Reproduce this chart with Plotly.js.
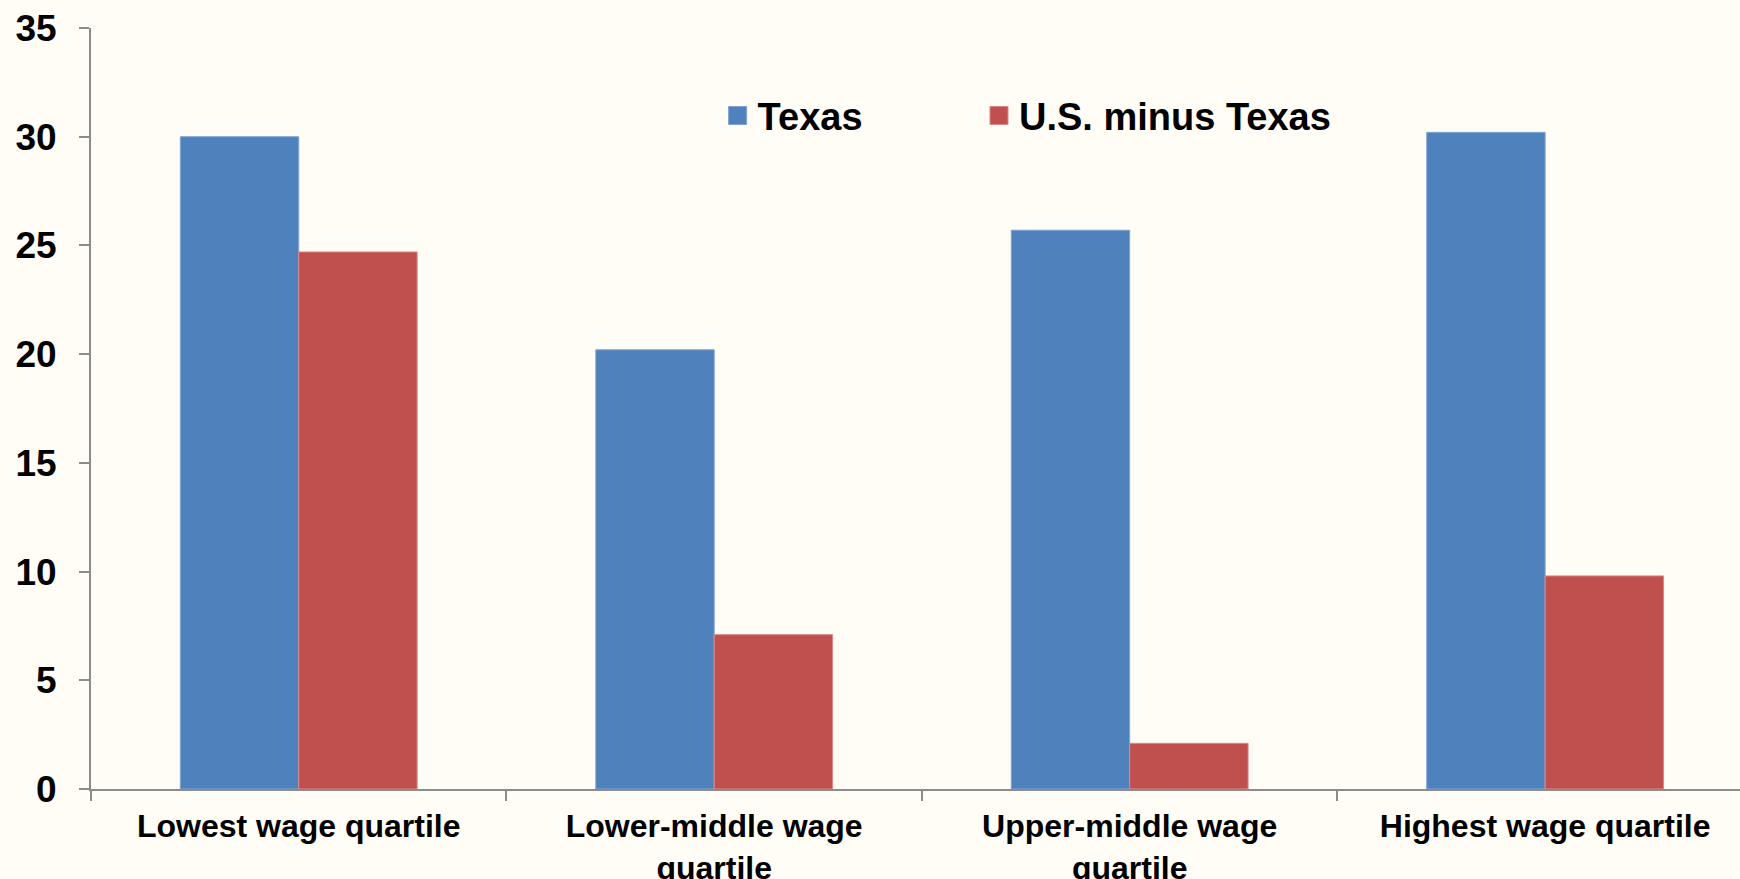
<!DOCTYPE html>
<html>
<head>
<meta charset="utf-8">
<script src="https://cdn.plot.ly/plotly-3.0.1.min.js"></script>
<style>
  html, body { margin: 0; padding: 0; background: #fffdf6; overflow: hidden; }
  #chart { width: 1740px; height: 879px; }
</style>
</head>
<body>
<div id="chart"></div>
<script>
// Data
const categories = [
  "Lowest wage quartile",
  "Lower-middle wage<br>quartile",
  "Upper-middle wage<br>quartile",
  "Highest wage quartile"
];
const texasValues = [30.0, 20.2, 25.7, 30.2];
const usMinusTexasValues = [24.7, 7.1, 2.1, 9.8];
const seriesNames = ["Texas", "U.S. minus Texas"];
const yTickValues = [0, 5, 10, 15, 20, 25, 30, 35];

const FONT = "Liberation Sans, Arial, sans-serif";

const traces = [
  {
    type: "bar",
    name: seriesNames[0],
    x: categories,
    y: texasValues,
    legend: "legend",
    marker: { color: "#4f81bd", line: { color: "#7fa3d4", width: 1 } },
    hoverinfo: "x+y+name"
  },
  {
    type: "bar",
    name: seriesNames[1],
    x: categories,
    y: usMinusTexasValues,
    legend: "legend2",
    marker: { color: "#c0504d", line: { color: "#d98a88", width: 1 } },
    hoverinfo: "x+y+name"
  }
];

const legendCommon = {
  orientation: "h",
  xanchor: "left",
  y: 0.926,
  yanchor: "top",
  bgcolor: "rgba(0,0,0,0)",
  font: { family: FONT, size: 38, color: "#000000", weight: "bold" },
  itemclick: false,
  itemdoubleclick: false
};

const layout = {
  width: 1740,
  height: 879,
  margin: { l: 91, r: 0, t: 28, b: 90, pad: 0 },
  paper_bgcolor: "#fffdf6",
  plot_bgcolor: "#fffdf6",
  font: { family: FONT, color: "#000000", size: 32 },
  barmode: "group",
  bargap: 0.43,
  bargroupgap: 0,
  showlegend: true,
  legend: Object.assign({}, legendCommon, { x: 0.380 }),
  legend2: Object.assign({}, legendCommon, { x: 0.5385 }),
  xaxis: {
    type: "category",
    range: [-0.5, 3.469],
    showline: true,
    linecolor: "#8c8c8c",
    linewidth: 2,
    ticks: "outside",
    tickson: "boundaries",
    ticklen: 10,
    tickwidth: 2,
    tickcolor: "#8c8c8c",
    showgrid: false,
    zeroline: false,
    ticklabelstandoff: 8,
    tickfont: { family: FONT, size: 32, color: "#000000", weight: "bold" },
    fixedrange: true
  },
  yaxis: {
    range: [0, 35],
    tickvals: yTickValues,
    ticktext: yTickValues.map(String),
    showline: true,
    linecolor: "#8c8c8c",
    linewidth: 2,
    ticks: "outside",
    ticklen: 10,
    tickwidth: 2,
    tickcolor: "#8c8c8c",
    showgrid: false,
    zeroline: false,
    ticklabelstandoff: 15,
    tickfont: { family: FONT, size: 37, color: "#000000", weight: "bold" },
    fixedrange: true
  }
};

function enlargeLegendSymbols() {
  document.querySelectorAll("#chart .legendpoints path").forEach(function (p) {
    p.setAttribute("d", "M9,9H-9V-9H9Z");
  });
}

Plotly.newPlot("chart", traces, layout, { displayModeBar: false, responsive: false })
  .then(function (gd) {
    enlargeLegendSymbols();
    gd.on("plotly_afterplot", enlargeLegendSymbols);
  });
</script>
</body>
</html>
